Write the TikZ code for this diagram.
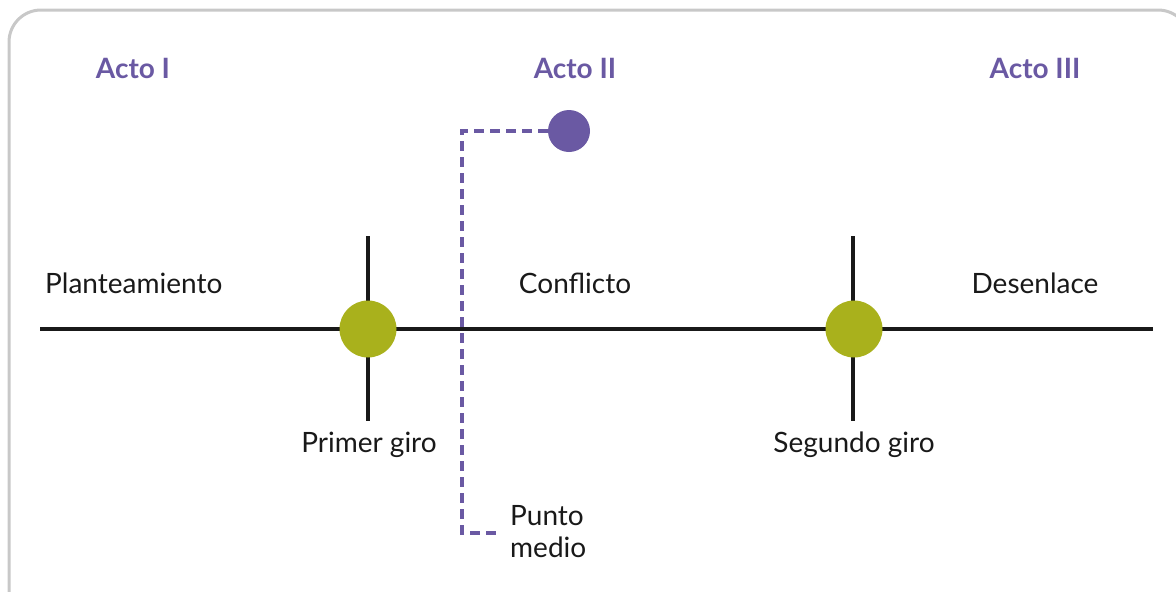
\documentclass[tikz,border=0pt]{standalone}
\usepackage{fontspec}
\setmainfont{Lato}
\definecolor{actpurple}{HTML}{6A59A3}
\definecolor{turngreen}{HTML}{A9B11C}
\definecolor{framegray}{HTML}{C8C8C8}
\begin{document}
\begin{tikzpicture}[x=1pt,y=-1pt,
  act/.style={text=actpurple,font=\fontsize{28}{32}\selectfont\bfseries,inner sep=0pt},
  lbl/.style={text=black!90,font=\fontsize{28}{32}\selectfont,inner sep=0pt},
  turn/.style={circle,fill=turngreen,minimum size=57pt,inner sep=0pt},
  mid/.style={circle,fill=actpurple,minimum size=42pt,inner sep=0pt},
  axis/.style={line width=3.5pt,black!90},
  dashlink/.style={actpurple,line width=3.8pt,dash pattern=on 10pt off 6pt}]
\useasboundingbox (0,0) rectangle (1176,592);
\begin{scope}
\clip (0,0) rectangle (1176,592);
\draw[framegray,line width=3pt,rounded corners=32pt] (9,10) rectangle (1190,625);
\end{scope}
% acts
\node[act] (a1) at (133,68) {Acto I};
\node[act] (a2) at (575,68) {Acto II};
\node[act] (a3) at (1035,68) {Acto III};
% axis
\coordinate (L) at (40,329);
\coordinate (R) at (1153,329);
\draw[axis] (L) -- (R);
% turns
\coordinate (t1top) at (368,236);
\coordinate (t1bot) at (368,421);
\coordinate (t2top) at (853,236);
\coordinate (t2bot) at (853,421);
\draw[axis] (t1top) -- (t1bot);
\draw[axis] (t2top) -- (t2bot);
\node[turn] (g1) at (368,329) {};
\node[turn] (g2) at (854,329) {};
% labels
\node[lbl,anchor=west] (plan) at (45,283) {Planteamiento};
\node[lbl] (conf) at (575,283) {Conflicto};
\node[lbl] (des) at (1035,283) {Desenlace};
\node[lbl] (pg) at (369,445) {Primer giro};
\node[lbl] (sg) at (854,445) {Segundo giro};
\node[lbl,align=left,anchor=west] (pm) at (510,532) {Punto\\medio};
% midpoint
\node[mid] (m) at (569,131) {};
\coordinate (c1) at (462,131);
\coordinate (c2) at (462,533);
\coordinate (mend) at (500,533);
\draw[dashlink] (m.west) -- (c1) -- (c2) -- (mend);
\end{tikzpicture}
\end{document}
